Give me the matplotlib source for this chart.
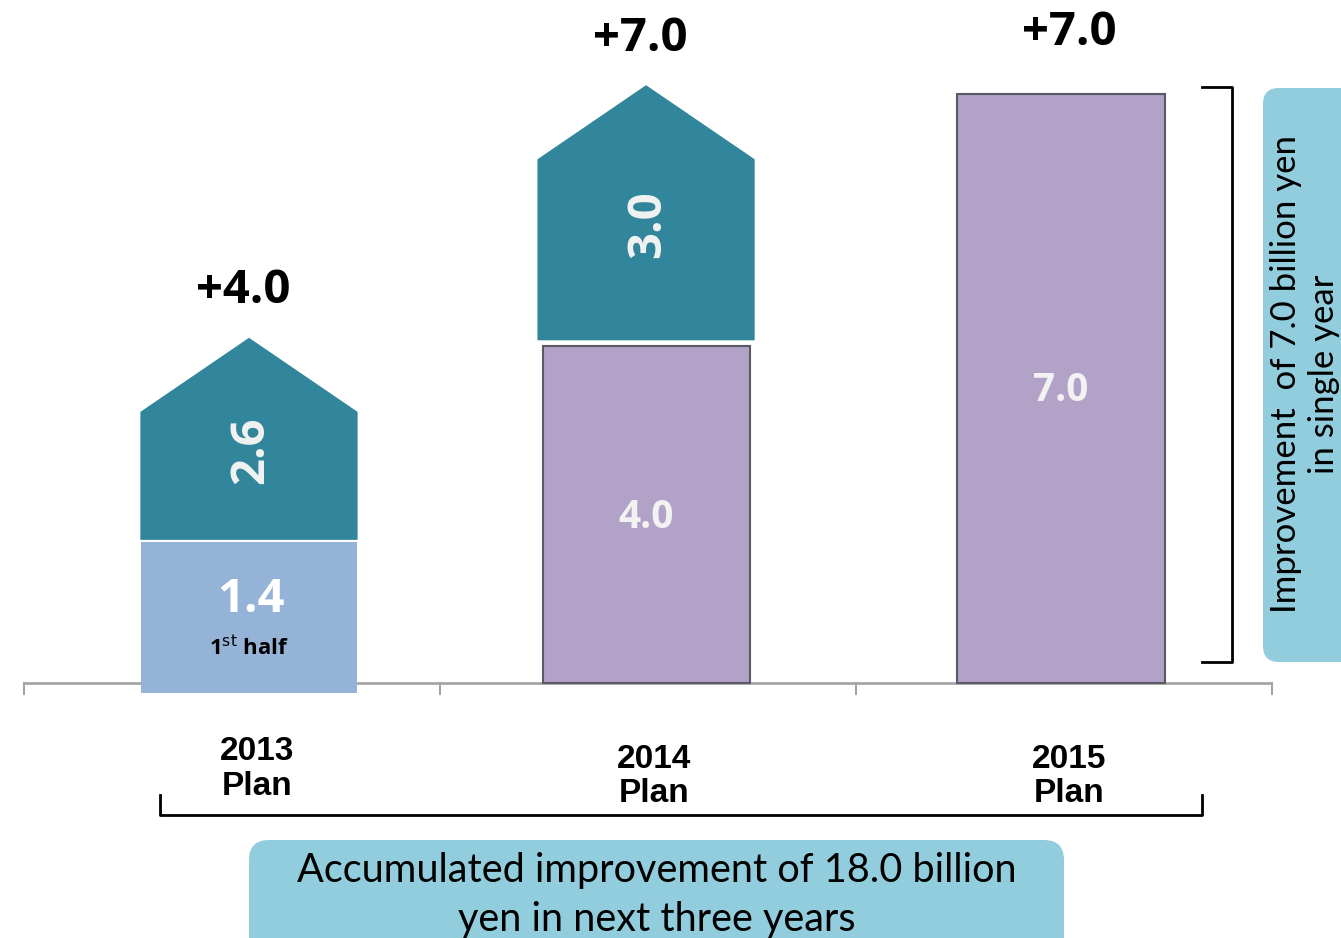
import numpy as np
import matplotlib
matplotlib.use("Agg")
import matplotlib.pyplot as plt
from matplotlib.patches import Rectangle, Polygon, FancyBboxPatch

# ---- data ----
years = ["2013", "2014", "2015"]
year_labels = ["2013\nPlan", "2014\nPlan", "2015\nPlan"]
base_values = [1.4, 4.0, 7.0]          # lower blocks (2013: 1st half, 2014/2015: carried improvement)
new_values = [2.6, 3.0, 0.0]           # new improvement (arrow blocks)
totals = ["+4.0", "+7.0", "+7.0"]
base_text = ["1.4", "4.0", "7.0"]
new_text = ["2.6", "3.0", ""]

# ---- style ----
TEAL = "#31869B"
LIGHTBLUE = "#95B3D7"
PURPLE = "#B3A2C8"
CALLOUT = "#92CDDD"
W, H = 1341, 938
DPI = 100

fig = plt.figure(figsize=(W / DPI, H / DPI), dpi=DPI)
ax = fig.add_axes([0, 0, 1, 1])
px_per_x = 406.0
px_per_y = 84.2
x0_px = 249.0
base_px = 683.0
ax.set_xlim(-x0_px / px_per_x, (W - x0_px) / px_per_x)
ax.set_ylim(-(H - base_px) / px_per_y, base_px / px_per_y)
ax.axis("off")

xs = np.arange(len(years)) + np.array([0.0, -0.022, 0.0])
arrow_w = 0.535
purple_w = 0.51
head_h = 0.88
gap = 0.07

# axis line with ticks
ax.plot([-0.555, 2.52], [0, 0], color="#A6A6A6", lw=2, zorder=1, solid_capstyle="butt")
for t in np.linspace(-0.555, 2.52, 4):
    ax.plot([t, t], [0, -0.13], color="#A6A6A6", lw=1.5, zorder=1)

val_font = "Open Sans"
for i, x in enumerate(xs):
    b = base_values[i]
    n = new_values[i]
    if i == 0:
        ax.add_patch(Rectangle((x - 0.265, -0.12), 0.53, b + 0.12 + 0.28,
                               facecolor=LIGHTBLUE, edgecolor="none", zorder=2))
        top_b = b + 0.28
        ax.text(x + 0.005, top_b * 0.59, base_text[i], ha="center", va="center",
                color="white", fontsize=34, fontweight="bold", family=val_font, zorder=5)
        ax.text(x, top_b * 0.25, "1$^{\\mathrm{st}}$ half", ha="center", va="center",
                color="black", fontsize=16, fontweight="bold", family=val_font, zorder=5)
    else:
        ax.add_patch(Rectangle((x - purple_w / 2, 0), purple_w, b,
                               facecolor=PURPLE, edgecolor="#5A5A66", lw=1.5, zorder=2))
        top_b = b
        ax.text(x, b / 2 - 0.03, base_text[i], ha="center", va="center",
                color="#F2F2F2", fontsize=28, fontweight="bold", family=val_font, zorder=5)
    if n > 0:
        bot = top_b + (0.02 if i == 0 else gap)
        tip = b + n + 0.1
        sh = tip - head_h
        poly = Polygon([(x - arrow_w / 2, bot), (x + arrow_w / 2, bot),
                        (x + arrow_w / 2, sh), (x, tip), (x - arrow_w / 2, sh)],
                       closed=True, facecolor=TEAL, edgecolor="none", zorder=3)
        ax.add_patch(poly)
        ax.text(x + 0.005, (bot + sh) / 2 + 0.3, new_text[i],
                ha="center", va="center", rotation=90, color="#F2F2F2",
                fontsize=34, fontweight="bold", family=val_font, zorder=5)
        ax.text(x - 0.015, tip + 0.56, totals[i], ha="center", va="center",
                fontsize=34, fontweight="bold", family=val_font, color="black")
    else:
        ax.text(x + 0.02, b + 0.73, totals[i], ha="center", va="center",
                fontsize=34, fontweight="bold", family=val_font, color="black")

# year labels
for i, x in enumerate(xs):
    yy = -1.02 if i == 0 else -1.11
    ax.text(x + 0.02, yy, year_labels[i], ha="center", va="center",
            fontsize=24, fontweight="bold", family="Liberation Sans",
            linespacing=1.15, color="black")

# ---- decorations in pixel space ----
ov = fig.add_axes([0, 0, 1, 1], facecolor="none")
ov.set_xlim(0, W)
ov.set_ylim(H, 0)
ov.axis("off")

# bottom brace
ov.plot([160, 160, 1202, 1202], [795, 815, 815, 795], color="black", lw=2,
        solid_joinstyle="round")
# right bracket
ov.plot([1202, 1232, 1232, 1202], [87, 87, 662, 662], color="black", lw=2,
        solid_joinstyle="round")

# right callout
ov.add_patch(FancyBboxPatch((1263, 88), 120, 574,
                            boxstyle="round,pad=0,rounding_size=16",
                            facecolor=CALLOUT, edgecolor="none"))
ov.text(1305, 374, "Improvement  of 7.0 billion yen\nin single year", rotation=90,
        ha="center", va="center", fontsize=25, family="Lato", linespacing=1.2,
        color="black")

# bottom callout
ov.add_patch(FancyBboxPatch((249, 840), 815, 140,
                            boxstyle="round,pad=0,rounding_size=20",
                            facecolor=CALLOUT, edgecolor="none"))
ov.text(657, 895, "Accumulated improvement of 18.0 billion\nyen in next three years",
        ha="center", va="center", fontsize=28.5, family="Lato", linespacing=1.4,
        color="black")

fig.savefig("out.png", dpi=DPI)
